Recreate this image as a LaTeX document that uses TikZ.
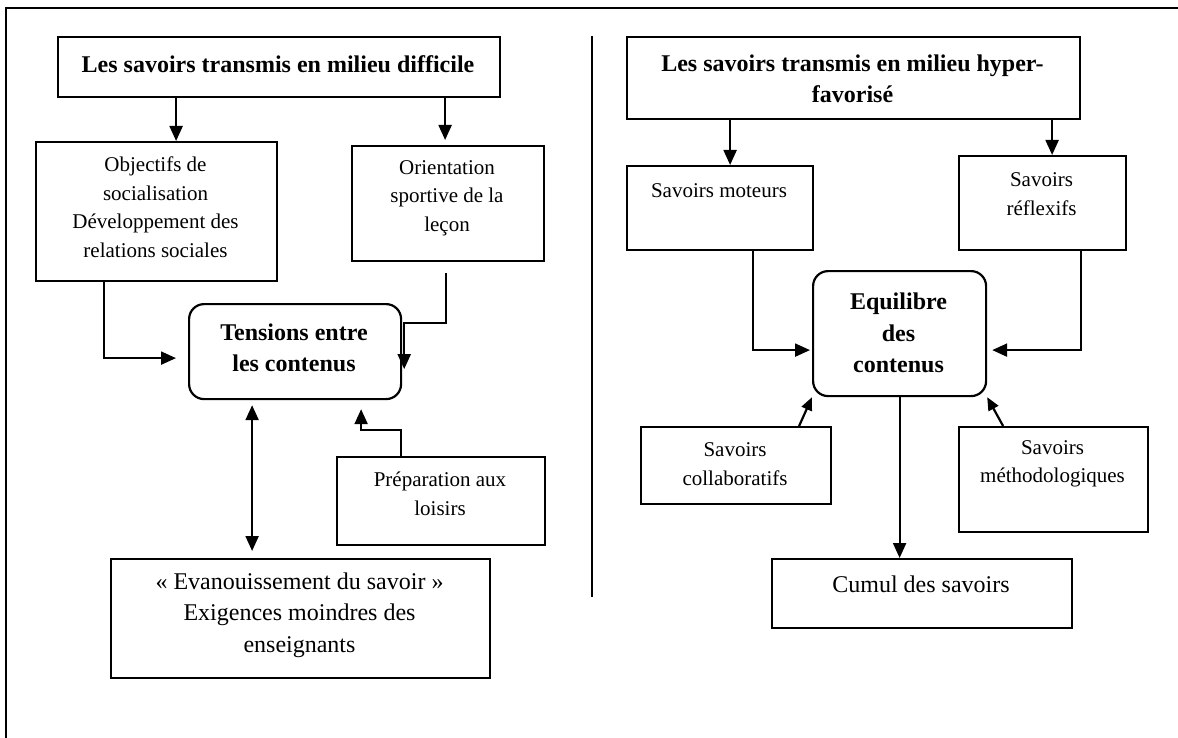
\documentclass[tikz,border=0pt]{standalone}
\usepackage{fontspec}
\setmainfont{Liberation Serif}
\usetikzlibrary{arrows.meta}
\begin{document}
\begin{tikzpicture}[x=1pt,y=-1pt,
 box/.style={draw, line width=2.2pt, inner sep=0pt, anchor=north west},
 rbox/.style={box, rounded corners=15pt},
 txt/.style={align=center, inner sep=0pt, font=\fontsize{21}{28.5}\selectfont},
 btxt/.style={align=center, inner sep=0pt, font=\fontsize{24}{31.5}\selectfont\bfseries},
 ltxt/.style={align=center, inner sep=0pt, font=\fontsize{24}{31.5}\selectfont},
 conn/.style={line width=2.2pt, -{Triangle[length=15pt,width=13pt]}},
 dconn/.style={line width=2.2pt, {Triangle[length=15pt,width=13pt]}-{Triangle[length=15pt,width=13pt]}},
 sconn/.style={line width=2.2pt, -{Triangle[length=13pt,width=11pt]}},
 frame/.style={line width=2.2pt},
]
\useasboundingbox (0,0) rectangle (1178,738);
% frame and divider
\draw[frame] (1178,8) -- (6,8) -- (6,738);
\draw[frame] (592,36) -- (592,597);

% left side boxes
\node[box, minimum width=442pt, minimum height=60pt] (L1) at (57,36) {};
\node[btxt] (L1t) at (278,64) {Les savoirs transmis en milieu difficile};
\node[box, minimum width=241pt, minimum height=139pt] (obj) at (35,141) {};
\node[txt] (objt) at (155.5,207) {Objectifs de\\socialisation\\Développement des\\relations sociales};
\node[box, minimum width=192pt, minimum height=115pt] (ori) at (351,145) {};
\node[txt] (orit) at (447,198) {Orientation\\sportive de la\\leçon};
\node[rbox, minimum width=212pt, minimum height=95pt] (ten) at (188,303) {};
\node[btxt] (tent) at (294,348) {Tensions entre\\les contenus};
\node[box, minimum width=208pt, minimum height=88pt] (prep) at (336,456) {};
\node[txt] (prept) at (440,494) {Préparation aux\\loisirs};
\node[box, minimum width=379pt, minimum height=119pt] (eva) at (110,558) {};
\node[ltxt] (evat) at (299.5,615) {« Evanouissement du savoir »\\Exigences moindres des\\enseignants};

% right side boxes
\node[box, minimum width=453pt, minimum height=82pt] (R1) at (626,36) {};
\node[btxt] (R1t) at (852.5,79) {Les savoirs transmis en milieu hyper-\\favorisé};
\node[box, minimum width=186pt, minimum height=84pt] (mot) at (626,165) {};
\node[txt] (mott) at (719,191) {Savoirs moteurs};
\node[box, minimum width=167pt, minimum height=94pt] (ref) at (958,155) {};
\node[txt] (reft) at (1041.5,194) {Savoirs\\réflexifs};
\node[rbox, minimum width=173pt, minimum height=125pt] (equ) at (812,270) {};
\node[btxt] (equt) at (898.5,333) {Equilibre\\des\\contenus};
\node[box, minimum width=190pt, minimum height=77pt] (col) at (640,426) {};
\node[txt] (colt) at (735,464) {Savoirs\\collaboratifs};
\node[box, minimum width=189pt, minimum height=105pt] (met) at (958,426) {};
\node[txt] (mett) at (1052.5,464) {Savoirs\\méthodologiques};
\node[box, minimum width=300pt, minimum height=69pt] (cum) at (771,558) {};
\node[ltxt] (cumt) at (921,584) {Cumul des savoirs};

% left connectors
\draw[conn] ([xshift=-103pt]L1.south) -- ([xshift=-103pt]L1.south |- obj.north);
\draw[conn] ([xshift=166pt]L1.south) -- ([xshift=166pt,yshift=5pt]L1.south |- ori.north);
\draw[conn] ([xshift=-52.5pt]obj.south) |- ([xshift=-12pt,yshift=-6.5pt]ten.west);
\draw[conn] ([xshift=-2pt,yshift=-11pt]ori.south) -- ++(0,50) -| ([xshift=2pt,yshift=-17.5pt]ten.east);
\draw[conn] ([xshift=-40pt]prep.north) -- ++(0,-26) -| ([xshift=66pt,yshift=-9pt]ten.south);
\draw[dconn] ([xshift=-43pt,yshift=-5pt]ten.south) -- ([xshift=-48.5pt,yshift=7pt]eva.north);

% right connectors
\draw[conn] ([xshift=-123.5pt]R1.south) -- ([xshift=-123.5pt]R1.south |- mot.north);
\draw[conn] ([xshift=198.5pt]R1.south) -- ([xshift=198.5pt]R1.south |- ref.north);
\draw[conn] ([xshift=33pt]mot.south) |- ([xshift=-2pt,yshift=-16.5pt]equ.west);
\draw[conn] ([xshift=38.5pt]ref.south) |- ([xshift=5pt,yshift=-16.5pt]equ.east);
\draw[sconn] ([xshift=63pt]col.north) -- (equ.south west);
\draw[sconn] ([xshift=-50.5pt]met.north) -- (equ.south east);
\draw[conn] (equ.south) -- (equ.south |- cum.north);
\end{tikzpicture}
\end{document}
